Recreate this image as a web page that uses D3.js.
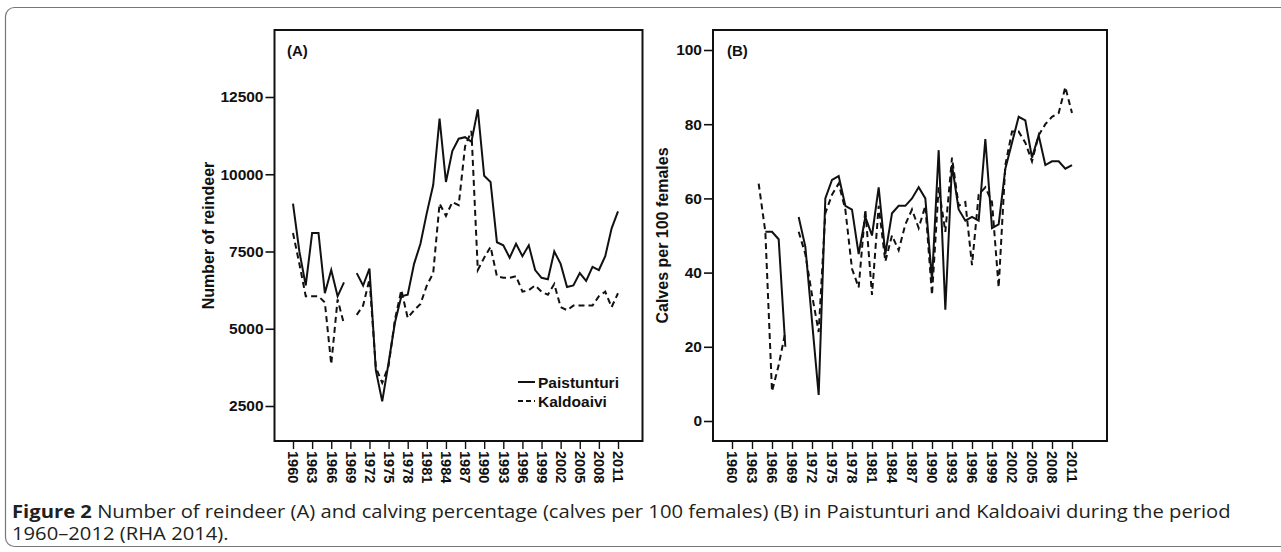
<!DOCTYPE html>
<html><head><meta charset="utf-8">
<script src="https://cdn.jsdelivr.net/npm/d3@7"></script>
<style>body{margin:0;background:#fff} svg{display:block}</style>
</head><body><svg id="c" width="1281" height="552"></svg>
<script>
// ---------------- DATA ----------------
const years = d3.range(1960, 2012); // 1960..2011
const tickYears = d3.range(1960, 2012, 3);
const reindeerTicks = [2500, 5000, 7500, 10000, 12500];
const calvesTicks = [0, 20, 40, 60, 80, 100];

const reindeerPaistunturi = [
  9050, 7500, 6400, 8100, 8100, 6150, 6900, 6050, 6500, null,
  6800, 6400, 6950, 3650, 2650, 3900, 5200, 6050, 6100, 7100,
  7750, 8750, 9650, 11800, 9750, 10750, 11150, 11200, 11050, 12100,
  9950, 9750, 7800, 7700, 7300, 7750, 7350, 7700, 6900, 6650,
  6600, 7500, 7100, 6350, 6400, 6800, 6550, 7000, 6900, 7350,
  8250, 8800];
const reindeerKaldoaivi = [
  8100, 7100, 6050, 6050, 6050, 5850, 3850, 5950, 5150, null,
  5450, 5750, 6600, 3750, 3250, 3800, 5300, 6250, 5350, 5600,
  5800, 6400, 6800, 9050, 8650, 9100, 9000, 10900, 11400, 6900,
  7300, 7650, 6700, 6650, 6650, 6700, 6200, 6250, 6400, 6200,
  6100, 6450, 5700, 5600, 5750, 5750, 5750, 5750, 6050, 6200,
  5700, 6150];
const calvesPaistunturi = [
  null, null, null, null, null, 51, 51, 49, 20, null,
  55, 47, 27, 7, 60, 65, 66, 58, 57, 45,
  55, 50, 63, 45, 56, 58, 58, 60, 63, 60,
  38, 73, 30, 69, 57, 54, 55, 54, 76, 52,
  53, 68, 75, 82, 81, 71, 77, 69, 70, 70,
  68, 69];
const calvesKaldoaivi = [
  null, null, null, null, 64, 51, 8, 15, 24, null,
  51, 45, 34, 24, 56, 61, 64, 57, 41, 36,
  57, 34, 58, 43, 50, 46, 53, 57, 52, 58,
  34, 63, 51, 71, 58, 59, 42, 61, 63, 59,
  36, 69, 78, 78, 75, 70, 77, 80, 82, 83,
  90, 83];

const seriesNames = ["Paistunturi", "Kaldoaivi"];

// ---------------- DRAW ----------------
const svg = d3.select("#c");
const FONT = "'Liberation Sans', Arial, sans-serif";

// outer figure frame
svg.append("rect").attr("x", 5.5).attr("y", 7.5).attr("width", 1300).attr("height", 539)
  .attr("rx", 9).attr("fill", "none").attr("stroke", "#777").attr("stroke-width", 1.2);

function panel(opt) {
  const g = svg.append("g");
  const x = d3.scaleLinear().domain([1960, 2011]).range(opt.xr);
  const y = d3.scaleLinear().domain(opt.ydom).range(opt.yr);
  const fr = opt.frame;
  // frame
  g.append("rect").attr("x", fr[0]).attr("y", fr[1]).attr("width", fr[2] - fr[0]).attr("height", fr[3] - fr[1])
    .attr("fill", "none").attr("stroke", "#111").attr("stroke-width", 2);
  // y axis
  const ya = g.append("g").attr("transform", `translate(${fr[0]},0)`)
    .call(d3.axisLeft(y).tickValues(opt.yticks).tickSize(9).tickPadding(2).tickFormat(d3.format("d")));
  ya.select(".domain").remove();
  ya.selectAll(".tick line").attr("stroke", "#111").attr("stroke-width", 1.6);
  ya.selectAll(".tick text").attr("font-family", FONT).attr("font-weight", "bold").attr("font-size", 15.5).attr("fill", "#111");
  // x axis
  const xa = g.append("g").attr("transform", `translate(0,${fr[3]})`)
    .call(d3.axisBottom(x).tickValues(tickYears).tickSize(8).tickFormat(d3.format("d")));
  xa.select(".domain").remove();
  xa.selectAll(".tick line").attr("stroke", "#111").attr("stroke-width", 1.4);
  xa.selectAll(".tick text").attr("font-family", FONT).attr("font-weight", "bold").attr("font-size", 14.5).attr("fill", "#111")
    .attr("transform", "rotate(90)").attr("x", 10).attr("y", 0).attr("dy", "0.36em").style("text-anchor", "start");
  // y title
  g.append("text").attr("transform", `translate(${opt.titleX},${(fr[1] + fr[3]) / 2 - opt.titleShift}) rotate(-90)`)
    .attr("text-anchor", "middle").attr("font-family", FONT).attr("font-weight", "bold").attr("font-size", 16)
    .attr("fill", "#111").text(opt.title);
  // panel label
  g.append("text").attr("x", opt.labelX).attr("y", opt.labelY).attr("font-family", FONT).attr("font-weight", "bold")
    .attr("font-size", 15).attr("fill", "#111").text(opt.label);
  // lines
  const line = d3.line().defined(d => d.v != null).x(d => x(d.year)).y(d => y(d.v));
  opt.series.forEach((vals, i) => {
    const data = years.map((yr, k) => ({ year: yr, v: vals[k] }));
    g.append("path").datum(data).attr("d", line).attr("fill", "none").attr("stroke", "#111")
      .attr("stroke-width", 2).attr("stroke-linejoin", "miter")
      .attr("stroke-dasharray", i === 1 ? "6,4" : null);
  });
  return { g, x, y };
}

const A = panel({
  xr: [293, 618], ydom: [2500, 12500], yr: [406, 97], frame: [274.5, 30, 642.5, 441],
  yticks: reindeerTicks, title: "Number of reindeer", titleX: 214, titleShift: seriesNames.length * 0 + 0,
  label: "(A)", labelX: 287, labelY: 56,
  series: [reindeerPaistunturi, reindeerKaldoaivi]
});
const B = panel({
  xr: [732, 1072], ydom: [0, 100], yr: [421, 50], frame: [713, 30, 1107, 441],
  yticks: calvesTicks, title: "Calves per 100 females", titleX: 668, titleShift: 0,
  label: "(B)", labelX: 727, labelY: 56,
  series: [calvesPaistunturi, calvesKaldoaivi]
});

// legend in panel A
const lg = A.g.append("g");
seriesNames.forEach((name, i) => {
  const yy = 382 + i * 19;
  lg.append("line").attr("x1", 518).attr("x2", 535).attr("y1", yy).attr("y2", yy)
    .attr("stroke", "#111").attr("stroke-width", 2).attr("stroke-dasharray", i === 1 ? "5,3" : null);
  lg.append("text").attr("x", 538).attr("y", yy).attr("dy", "0.36em").attr("font-family", FONT)
    .attr("font-weight", "bold").attr("font-size", 15.5).attr("fill", "#111").text(name);
});

// caption
const CAP = "'Open Sans', 'Noto Sans', sans-serif";
const c1 = svg.append("text").attr("font-family", CAP).attr("font-size", 18).attr("fill", "#231f20");
c1.append("tspan").attr("font-weight", "bold").text("Figure 2");
c1.append("tspan").text(" Number of reindeer (A) and calving percentage (calves per 100 females) (B) in Paistunturi and Kaldoaivi during the period");
const w1 = c1.node().getComputedTextLength();
const sx = 1220 / w1;
c1.attr("transform", `translate(12,518) scale(${sx},1)`);
const c2 = svg.append("text").attr("font-family", CAP).attr("font-size", 18).attr("fill", "#231f20")
  .attr("transform", `translate(12,540) scale(${sx},1)`).text("1960–2012 (RHA 2014).");
</script></body></html>
